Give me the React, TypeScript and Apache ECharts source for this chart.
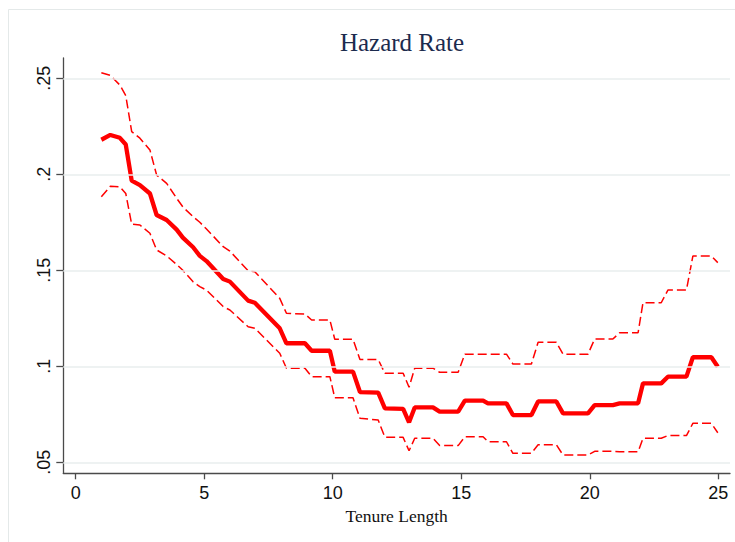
import React, { useEffect, useRef } from "react";
import * as echarts from "echarts";

const tenure = [
  1.0, 1.35, 1.72, 1.95, 2.18, 2.5, 2.89, 3.15, 3.54, 3.93, 4.17, 4.57, 4.83, 5.09,
  5.74, 6.0, 6.71, 6.97, 7.94, 8.2, 8.92, 9.18, 9.89, 10.08, 10.79, 11.06, 11.77,
  12.03, 12.74, 12.97, 13.19, 13.9, 14.16, 14.88, 15.14, 15.85, 16.04, 16.76, 17.01,
  17.73, 17.99, 18.7, 18.96, 19.93, 20.19, 20.9, 21.16, 21.88, 22.07, 22.78, 23.04,
  23.76, 24.01, 24.73, 24.98,
];

const hazard = [
  0.218, 0.2205, 0.219, 0.2155, 0.1967, 0.1944, 0.19, 0.1788, 0.1762, 0.1712, 0.167,
  0.162, 0.1575, 0.1548, 0.1455, 0.1441, 0.1342, 0.1331, 0.1198, 0.112, 0.112, 0.1081,
  0.1081, 0.0972, 0.0972, 0.0866, 0.0863, 0.0781, 0.0778, 0.0708, 0.0786, 0.0786,
  0.0764, 0.0764, 0.0821, 0.0821, 0.0807, 0.0807, 0.0746, 0.0746, 0.0817, 0.0817,
  0.0755, 0.0755, 0.0798, 0.0798, 0.0807, 0.0807, 0.0911, 0.0911, 0.0946, 0.0946,
  0.1047, 0.1047, 0.0998,
];

const upperCI = [
  0.2529, 0.2515, 0.2465, 0.241, 0.2222, 0.2188, 0.2127, 0.1996, 0.1953, 0.1875,
  0.183, 0.1779, 0.175, 0.1715, 0.1623, 0.16, 0.1498, 0.1493, 0.1354, 0.1276, 0.1272,
  0.1241, 0.1241, 0.1141, 0.1141, 0.1035, 0.1035, 0.0964, 0.0964, 0.0891, 0.099,
  0.099, 0.0969, 0.0969, 0.1063, 0.1063, 0.1063, 0.1063, 0.1012, 0.1012, 0.1125,
  0.1125, 0.1063, 0.1063, 0.1142, 0.1142, 0.1175, 0.1175, 0.1331, 0.1331, 0.1397,
  0.1397, 0.1574, 0.1574, 0.154,
];

const lowerCI = [
  0.1883, 0.1938, 0.1935, 0.19, 0.174, 0.1736, 0.1693, 0.1606, 0.1575, 0.153, 0.15,
  0.144, 0.1415, 0.1397, 0.1311, 0.1293, 0.1206, 0.1198, 0.1068, 0.099, 0.099, 0.0946,
  0.0946, 0.0836, 0.0836, 0.0729, 0.072, 0.063, 0.063, 0.056, 0.0625, 0.0625, 0.0587,
  0.0587, 0.0633, 0.0633, 0.0607, 0.0607, 0.0547, 0.0547, 0.0591, 0.0591, 0.0538,
  0.0538, 0.0557, 0.0557, 0.0555, 0.0555, 0.0625, 0.0625, 0.0639, 0.0639, 0.0703,
  0.0703, 0.0654,
];

const xTicks = [0, 5, 10, 15, 20, 25];
const yTicks = [0.05, 0.1, 0.15, 0.2, 0.25];
const yTickLabels = [".05", ".1", ".15", ".2", ".25"];

const titleText = "Hazard Rate";
const xAxisName = "Tenure Length";

export default function App() {
  const ref = useRef<HTMLDivElement>(null);

  useEffect(() => {
    document.body.style.margin = "0";
    if (!ref.current) return;
    const chart = echarts.init(ref.current, undefined, { renderer: "svg" });
    const pairs = (vals: number[]) => tenure.map((t, i) => [t, vals[i]]);
    const axisColor = "#4a4a4a";
    const option: any = {
      animation: false,
      backgroundColor: "#ffffff",
      title: {
        text: titleText,
        left: 397,
        top: 25,
        textAlign: "center",
        textStyle: {
          fontFamily: "Liberation Serif",
          fontSize: 25,
          fontWeight: "normal",
          color: "#1c2b4e",
        },
      },
      graphic: [
        {
          type: "rect",
          z: -10,
          shape: { x: 8.5, y: 9.5, width: 740, height: 545 },
          style: { fill: "none", stroke: "#e4e9e9", lineWidth: 1 },
          silent: true,
        },
      ],
      grid: { left: 63.3, right: 5, top: 58, bottom: 68.7, containLabel: false },
      xAxis: {
        type: "value",
        min: -0.48,
        max: 25.455,
        name: xAxisName,
        nameLocation: "middle",
        nameGap: 31,
        nameTextStyle: { fontFamily: "Liberation Serif", fontSize: 17.5, color: "#111" },
        axisLine: { show: true, onZero: false, lineStyle: { color: axisColor, width: 1.3 } },
        axisTick: { show: true, length: 6, customValues: xTicks, lineStyle: { color: axisColor, width: 1.3 } },
        axisLabel: {
          customValues: xTicks,
          margin: 11,
          fontFamily: "Liberation Sans",
          fontSize: 18,
          color: "#111",
          formatter: (v: number) => String(v),
        },
        splitLine: { show: false },
      },
      yAxis: {
        type: "value",
        min: 0.04427,
        max: 0.26057,
        axisLine: { show: true, onZero: false, lineStyle: { color: axisColor, width: 1.3 } },
        axisTick: { show: true, length: 7, customValues: yTicks, lineStyle: { color: axisColor, width: 1.3 } },
        axisLabel: {
          customValues: yTicks,
          rotate: 90,
          margin: 10,
          fontFamily: "Liberation Sans",
          fontSize: 18,
          color: "#111",
          formatter: (v: number) => {
            const i = yTicks.findIndex((t) => Math.abs(t - v) < 1e-9);
            return i >= 0 ? yTickLabels[i] : "";
          },
        },
        splitLine: { show: false },
      },
      series: [
        {
          type: "line",
          data: [],
          z: 1,
          silent: true,
          markLine: {
            silent: true,
            symbol: ["none", "none"],
            label: { show: false },
            lineStyle: { color: "#e8eeee", width: 1.5, type: "solid" },
            emphasis: { disabled: true },
            data: yTicks.map((v) => ({ yAxis: v })),
          },
        },
        {
          name: "upper",
          type: "line",
          z: 3,
          data: pairs(upperCI),
          showSymbol: false,
          symbol: "none",
          lineStyle: { color: "#ff0000", width: 1.5, type: [9, 4] },
        },
        {
          name: "lower",
          type: "line",
          z: 3,
          data: pairs(lowerCI),
          showSymbol: false,
          symbol: "none",
          lineStyle: { color: "#ff0000", width: 1.5, type: [9, 4] },
        },
        {
          name: "hazard",
          type: "line",
          z: 4,
          data: pairs(hazard),
          showSymbol: false,
          symbol: "none",
          lineStyle: { color: "#ff0000", width: 4.3 },
        },
      ],
    };
    chart.setOption(option);
    return () => chart.dispose();
  }, []);

  return (
    <div
      ref={ref}
      style={{ position: "fixed", left: 0, top: 0, width: 735, height: 542, background: "#fff" }}
    />
  );
}
